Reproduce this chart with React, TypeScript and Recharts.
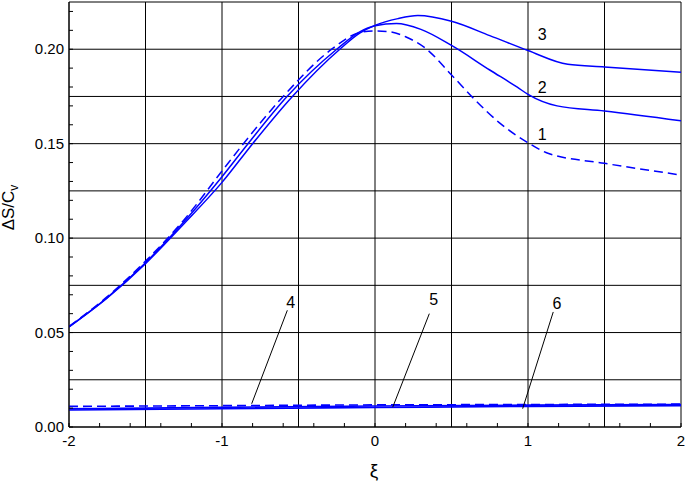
import {
  LineChart,
  Line,
  XAxis,
  YAxis,
  CartesianGrid,
  ReferenceLine,
  ReferenceDot,
} from "recharts";

// curve 1 (dashed), 2 and 3 (solid) – upper family
const xi1 = [-2, -1.75, -1.5, -1.25, -1, -0.86, -0.6, -0.283, -0.1, 0, 0.1, 0.2, 0.33, 0.5, 0.65, 0.82, 1, 1.13, 1.5, 2];
const s1 = [0.0533, 0.069, 0.0878, 0.1095, 0.1355, 0.15, 0.175, 0.2, 0.2088, 0.2097, 0.2092, 0.2066, 0.2005, 0.1864, 0.1735, 0.1606, 0.1505, 0.1449, 0.1396, 0.1334];

const xi2 = [-2, -1.75, -1.5, -1.25, -1, -0.83, -0.575, -0.25, -0.1, 0, 0.14, 0.3, 0.5, 0.75, 0.93, 1, 1.19, 1.5, 2];
const s2 = [0.053, 0.0685, 0.087, 0.1085, 0.1325, 0.15, 0.175, 0.2, 0.2092, 0.2124, 0.2136, 0.2105, 0.202, 0.189, 0.1799, 0.1761, 0.17, 0.1673, 0.1621];

const xi3 = [-2, -1.75, -1.5, -1.25, -1, -0.8, -0.54, -0.23, -0.1, 0, 0.15, 0.28, 0.5, 0.75, 1, 1.26, 1.5, 2];
const s3 = [0.053, 0.0683, 0.0865, 0.1075, 0.1295, 0.15, 0.175, 0.2, 0.2085, 0.2126, 0.2162, 0.2178, 0.2148, 0.2072, 0.1993, 0.192, 0.1906, 0.1878];

// curves 4 (dashed), 5 and 6 (solid) – lower family
const xiLow = [-2, -1, 0, 1, 2];
const s4 = [0.0109, 0.0113, 0.0117, 0.0119, 0.0121];
const s5 = [0.0096, 0.0104, 0.0111, 0.0116, 0.0119];
const s6 = [0.009, 0.0097, 0.0103, 0.0109, 0.0113];

// axes
const xTicks = [-2, -1.8, -1.6, -1.4, -1.2, -1, -0.8, -0.6, -0.4, -0.2, 0, 0.2, 0.4, 0.6, 0.8, 1, 1.2, 1.4, 1.6, 1.8, 2];
const yTicks = [0, 0.01, 0.02, 0.03, 0.04, 0.05, 0.06, 0.07, 0.08, 0.09, 0.1, 0.11, 0.12, 0.13, 0.14, 0.15, 0.16, 0.17, 0.18, 0.19, 0.2, 0.21, 0.22];
const gridX = [-2, -1.5, -1, -0.5, 0, 0.5, 1, 1.5, 2];
const gridY = [0, 0.025, 0.05, 0.075, 0.1, 0.125, 0.15, 0.175, 0.2, 0.225];

// curve numbers: [label, xi, value]
const upperLabels: [string, number, number][] = [
  ["3", 1.093, 0.208],
  ["2", 1.093, 0.18],
  ["1", 1.093, 0.155],
];
// leader lines for lower curves: [label, labelXi, labelY, fromXi, fromY, toXi, toY]
const lowerLabels: [string, number, number, number, number, number, number][] = [
  ["4", -0.551, 0.0659, -0.573, 0.0618, -0.806, 0.0123],
  ["5", 0.383, 0.0674, 0.355, 0.06, 0.116, 0.0105],
  ["6", 1.19, 0.0656, 1.165, 0.0609, 0.965, 0.0097],
];

const BLUE = "#0000ff";
const FONT = "'Liberation Sans', Arial, sans-serif";

const toPoints = (xs: number[], ys: number[]) => xs.map((x, i) => ({ x, y: ys[i] }));

const XTick = (props: any) => {
  const { x, y, payload } = props;
  const v = payload.value as number;
  const isInt = Math.abs(v - Math.round(v)) < 1e-6;
  return (
    <g>
      <line x1={x} x2={x} y1={y} y2={y - 4} stroke="#000" />
      {isInt && (
        <text x={x} y={y + 19} textAnchor="middle" fontSize={15} fontFamily={FONT} fill="#000">
          {Math.round(v)}
        </text>
      )}
    </g>
  );
};

const YTick = (props: any) => {
  const { x, y, payload } = props;
  const v = payload.value as number;
  const major = Math.abs(v / 0.05 - Math.round(v / 0.05)) < 1e-6;
  return (
    <g>
      <line x1={x} x2={x + 4} y1={y} y2={y} stroke="#000" />
      {major && (
        <text x={x - 5} y={y + 5} textAnchor="end" fontSize={15} fontFamily={FONT} fill="#000">
          {v.toFixed(2)}
        </text>
      )}
    </g>
  );
};

export default function App() {
  return (
    <div style={{ position: "absolute", left: 0, top: 0, width: 685, height: 485, background: "#fff" }}>
      <LineChart width={685} height={485} margin={{ top: 2, right: 4, bottom: 0, left: 0 }}>
        <CartesianGrid
          stroke="#000"
          strokeWidth={1}
          horizontalValues={gridY}
          verticalValues={gridX}
        />
        <XAxis
          dataKey="x"
          type="number"
          domain={[-2, 2]}
          ticks={xTicks}
          interval={0}
          allowDataOverflow
          height={58}
          tickSize={0}
          tickMargin={0}
          tickLine={false}
          axisLine={{ stroke: "#000" }}
          tick={<XTick />}
          label={{
            content: ({ viewBox }: any) => {
              const vb = viewBox ?? { x: 69, y: 426, width: 612, height: 58 };
              return (
                <text x={vb.x + vb.width / 2 - 1} y={vb.y + 50} textAnchor="middle" fontSize={19} fontFamily={FONT} fill="#000">
                  ξ
                </text>
              );
            },
          }}
        />
        <YAxis
          type="number"
          domain={[0, 0.225]}
          ticks={yTicks}
          interval={0}
          allowDataOverflow
          width={69}
          tickSize={0}
          tickMargin={0}
          tickLine={false}
          axisLine={{ stroke: "#000" }}
          tick={<YTick />}
          label={{
            content: ({ viewBox }: any) => {
              const vb = viewBox ?? { x: 0, y: 2, width: 69, height: 424 };
              const cx = vb.x + 14;
              const cy = vb.y + vb.height / 2 - 7;
              return (
                <text
                  x={cx}
                  y={cy}
                  transform={`rotate(-90 ${cx} ${cy})`}
                  textAnchor="middle"
                  fontSize={17}
                  fontFamily={FONT}
                  fill="#000"
                >
                  ΔS/C
                  <tspan fontSize={12} dy={4}>v</tspan>
                </text>
              );
            },
          }}
        />

        <Line data={toPoints(xi1, s1)} dataKey="y" type="monotone" stroke={BLUE} strokeWidth={1.5} strokeDasharray="9 5" dot={false} isAnimationActive={false} />
        <Line data={toPoints(xi2, s2)} dataKey="y" type="monotone" stroke={BLUE} strokeWidth={1.5} dot={false} isAnimationActive={false} />
        <Line data={toPoints(xi3, s3)} dataKey="y" type="monotone" stroke={BLUE} strokeWidth={1.5} dot={false} isAnimationActive={false} />
        <Line data={toPoints(xiLow, s4)} dataKey="y" type="monotone" stroke={BLUE} strokeWidth={1.6} strokeDasharray="9 5" dot={false} isAnimationActive={false} />
        <Line data={toPoints(xiLow, s5)} dataKey="y" type="monotone" stroke={BLUE} strokeWidth={1.6} dot={false} isAnimationActive={false} />
        <Line data={toPoints(xiLow, s6)} dataKey="y" type="monotone" stroke={BLUE} strokeWidth={1.6} dot={false} isAnimationActive={false} />

        {lowerLabels.map(([name, , , x1, y1, x2, y2]) => (
          <ReferenceLine
            key={"seg" + name}
            segment={[{ x: x1, y: y1 }, { x: x2, y: y2 }]}
            stroke="#000"
            strokeWidth={1}
          />
        ))}
        {[...upperLabels, ...lowerLabels.map((l) => [l[0], l[1], l[2]] as [string, number, number])].map(([name, x, y]) => (
          <ReferenceDot
            key={"lbl" + name}
            x={x}
            y={y}
            r={0}
            fill="none"
            stroke="none"
            label={{ value: name, position: "center", fontSize: 16, fontFamily: FONT, fill: "#000" }}
          />
        ))}
      </LineChart>
    </div>
  );
}
